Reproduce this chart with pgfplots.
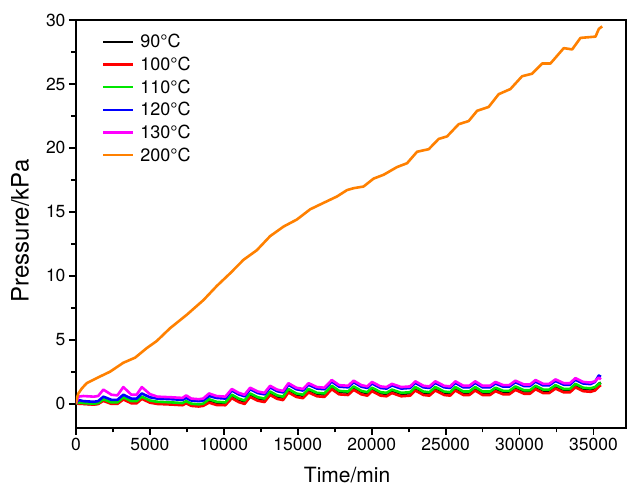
\documentclass[border=0pt]{standalone}
\usepackage{fontspec}
\setmainfont{TeX Gyre Heros}
\usepackage{pgfplots}
\usepackage{pgfplotstable}
\pgfplotsset{compat=1.18}

\definecolor{cOrange}{RGB}{255,128,0}
\definecolor{cGreen}{RGB}{0,230,0}
\definecolor{cMagenta}{RGB}{255,0,255}

% Pressure (kPa) against time (min) for the low-temperature runs
\pgfplotstableread{
t      k      r      g      b     m
0      0.00   0.00   0.00   0.00  0.00
150    0.05   0.00   0.10   0.30  0.55
500    0.00  -0.02   0.05   0.20  0.60
1200  -0.05  -0.07   0.00   0.15  0.55
1500   0.00  -0.02   0.05   0.20  0.60
1850   0.30   0.22   0.35   0.55  1.10
2400   0.05  -0.02   0.10   0.30  0.70
2800   0.05  -0.02   0.10   0.30  0.65
3200   0.45   0.33   0.50   0.70  1.30
3750   0.15   0.03   0.20   0.40  0.70
4100   0.15   0.03   0.20   0.40  0.70
4450   0.50   0.38   0.55   0.80  1.30
5000   0.20   0.08   0.25   0.50  0.75
5500   0.10  -0.02   0.15   0.40  0.55
6500   0.05  -0.07   0.10   0.35  0.50
7200   0.00  -0.12   0.05   0.30  0.45
7450   0.15   0.03   0.20   0.45  0.65
7800  -0.05  -0.17   0.00   0.25  0.40
8300  -0.10  -0.22  -0.05   0.20  0.35
8600  -0.05  -0.17   0.00   0.25  0.40
9000   0.27   0.08   0.35   0.60  0.80
9500   0.07  -0.10   0.15   0.45  0.60
10100  0.02  -0.12   0.10   0.40  0.55
10540  0.62   0.43   0.70   1.03  1.15
11000  0.32   0.13   0.40   0.73  0.85
11400  0.17  -0.02   0.25   0.58  0.70
11780  0.72   0.53   0.80   1.13  1.25
12300  0.42   0.23   0.50   0.83  0.95
12750  0.32   0.13   0.40   0.73  0.85
13130  0.87   0.68   0.95   1.28  1.40
13600  0.57   0.38   0.65   0.98  1.10
14000  0.47   0.28   0.55   0.88  1.00
14370  1.07   0.88   1.15   1.48  1.60
14900  0.72   0.53   0.80   1.13  1.25
15350  0.62   0.43   0.70   1.03  1.15
15730  1.07   0.88   1.15   1.48  1.60
16300  0.77   0.58   0.85   1.18  1.30
16800  0.72   0.53   0.80   1.13  1.25
17300  1.32   1.13   1.40   1.73  1.85
17800  0.92   0.73   1.00   1.33  1.45
18400  0.87   0.68   0.95   1.28  1.40
18780  1.27   1.08   1.35   1.68  1.80
19300  0.92   0.73   1.00   1.33  1.45
19700  0.82   0.63   0.90   1.23  1.35
20020  1.17   0.98   1.25   1.58  1.70
20600  0.82   0.63   0.90   1.23  1.35
21000  0.77   0.58   0.85   1.18  1.30
21370  1.02   0.83   1.10   1.43  1.55
22000  0.77   0.58   0.85   1.18  1.30
22600  0.82   0.63   0.90   1.23  1.35
22950  1.22   1.03   1.30   1.63  1.75
23500  0.87   0.68   0.95   1.28  1.40
23900  0.82   0.63   0.90   1.23  1.35
24300  1.22   1.03   1.30   1.63  1.75
24900  0.87   0.68   0.95   1.28  1.40
25300  0.82   0.63   0.90   1.23  1.35
25660  1.22   1.03   1.30   1.63  1.75
26200  0.87   0.68   0.95   1.28  1.40
26600  0.87   0.68   0.95   1.28  1.40
27000  1.22   1.03   1.30   1.63  1.75
27500  0.87   0.68   0.95   1.28  1.40
28000  0.87   0.68   0.95   1.28  1.40
28370  1.17   0.98   1.25   1.58  1.70
28900  0.92   0.73   1.00   1.33  1.45
29300  0.92   0.73   1.00   1.33  1.45
29720  1.27   1.08   1.35   1.68  1.80
30300  0.97   0.78   1.05   1.38  1.50
30700  0.97   0.78   1.05   1.38  1.50
31080  1.32   1.13   1.40   1.73  1.85
31600  1.02   0.83   1.10   1.43  1.55
32000  1.02   0.83   1.10   1.43  1.55
32430  1.37   1.18   1.45   1.78  1.90
33000  1.07   0.88   1.15   1.48  1.60
33400  1.07   0.88   1.15   1.48  1.60
33780  1.47   1.28   1.55   1.88  2.00
34300  1.17   0.98   1.25   1.58  1.70
34800  1.12   0.93   1.20   1.53  1.65
35100  1.22   1.03   1.30   1.70  1.75
35360  1.55   1.33   1.55   2.20  2.05
35500  1.65   1.45   1.60   2.10  1.90
}\lowtemp

% Pressure (kPa) against time (min) at 200 degC
\pgfplotstableread{
t      p
0      0.00
80     0.50
160    0.80
400    1.20
720    1.60
1400   2.00
2300   2.50
3200   3.20
4000   3.60
4790   4.35
5460   4.90
6360   5.90
7490   6.95
8620   8.10
9520   9.20
10430  10.20
11330  11.25
12230  12.00
13130  13.10
14040  13.85
14940  14.40
15840  15.20
16740  15.70
17650  16.20
18330  16.70
18780  16.85
19450  16.98
20130  17.60
20810  17.90
21710  18.50
22390  18.80
23070  19.70
23860  19.90
24530  20.70
25100  20.90
25880  21.85
26560  22.10
27130  22.90
27910  23.20
28590  24.20
29380  24.60
30170  25.60
30850  25.80
31530  26.60
32090  26.60
32990  27.80
33560  27.70
34120  28.60
35140  28.70
35360  29.30
35590  29.50
}\hightemp

\begin{document}
\begin{tikzpicture}
\useasboundingbox (-76pt,-58pt) rectangle (554pt,428pt);
\begin{axis}[
  at={(0,0)}, anchor=south west,
  scale only axis,
  width=550pt, height=408pt,
  xmin=0, xmax=37200,
  ymin=-1.9, ymax=30,
  xtick={0,5000,...,35000},
  ytick={0,5,...,30},
  minor x tick num=1,
  minor y tick num=1,
  tick pos=left,
  tick align=outside,
  major tick length=7pt,
  minor tick length=4.5pt,
  every tick/.style={black, line width=1.8pt},
  axis line style={line width=2.2pt},
  scaled x ticks=false,
  /pgf/number format/assume math mode=true,
  /pgf/number format/set thousands separator={},
  tick label style={font=\fontsize{17.5}{20}\selectfont},
  xlabel={Time/min},
  ylabel={Pressure/kPa},
  xlabel style={font=\fontsize{21}{24}\selectfont, inner sep=0pt,
    at={(axis description cs:0.493,-0.116)}, anchor=center},
  ylabel style={font=\fontsize{24}{28}\selectfont,
    at={(axis description cs:-0.1018,0.483)}, anchor=center},
  legend style={draw=none, fill=none, inner sep=0pt,
    at={(rel axis cs:0.0465,0.970)}, anchor=north west,
    font=\fontsize{18}{21}\selectfont, row sep=3.7pt, column sep=4pt,
    legend cell align=left},
  legend image code/.code={\draw[#1, line width=2.6pt] (0pt,0pt) -- (30pt,0pt);},
  every axis plot/.append style={line width=2.6pt, line join=round},
]
\addplot[black]    table[x=t, y=k] {\lowtemp};
\addplot[red]      table[x=t, y=r] {\lowtemp};
\addplot[cGreen]   table[x=t, y=g] {\lowtemp};
\addplot[blue]     table[x=t, y=b] {\lowtemp};
\addplot[cMagenta] table[x=t, y=m] {\lowtemp};
\addplot[cOrange]  table[x=t, y=p] {\hightemp};
\legend{90°C,100°C,110°C,120°C,130°C,200°C}
\end{axis}
\end{tikzpicture}
\end{document}
